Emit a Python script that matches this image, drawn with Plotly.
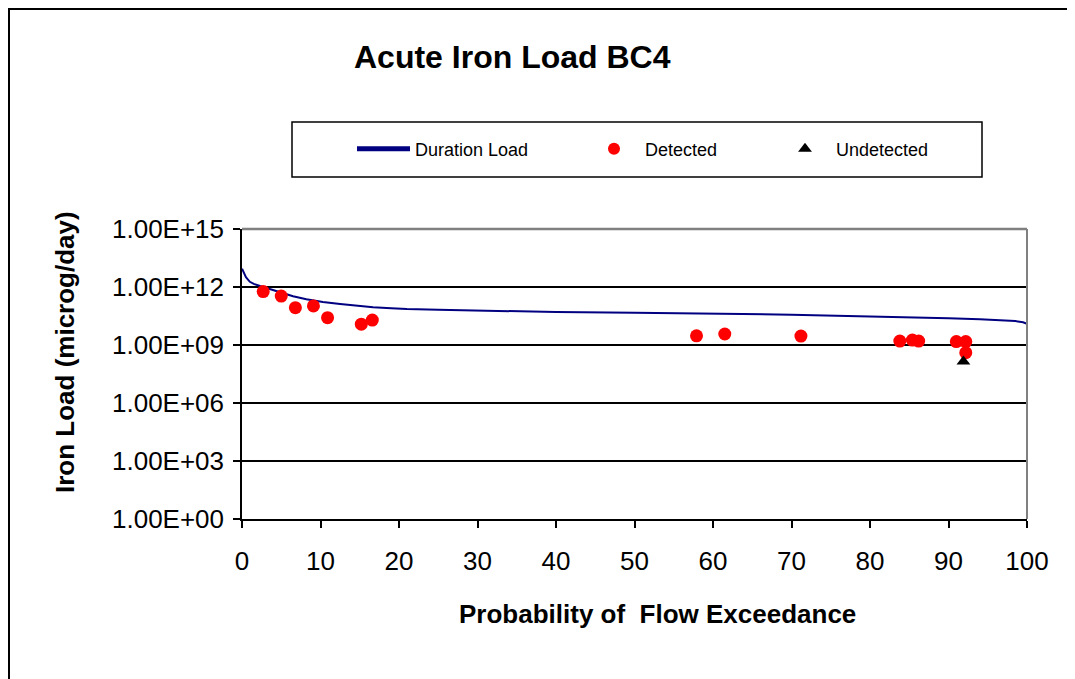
import plotly.graph_objects as go

# ---- data ----
duration_x = [0, 0.2, 0.5, 1, 1.5, 2.3, 3.5, 4.8, 6.5, 8.2, 10.3, 12.5, 14.5, 16.7,
              19, 21, 25, 30.3, 40, 50, 60, 70, 80, 85, 90, 94, 97, 98.5, 99.5, 100]
duration_load = [8.9e12, 5.6e12, 3.2e12, 1.86e12, 1.45e12, 1.12e12, 7.9e11, 5.0e11,
                 3.3e11, 2.3e11, 1.66e11, 1.32e11, 1.07e11, 8.9e10, 7.9e10, 7.2e10,
                 6.6e10, 5.9e10, 5.1e10, 4.6e10, 4.2e10, 3.7e10, 3.0e10, 2.75e10,
                 2.4e10, 2.14e10, 1.9e10, 1.74e10, 1.5e10, 1.26e10]

detected_x = [2.7, 5.0, 6.8, 9.1, 10.9, 15.2, 16.6, 57.9, 61.5, 71.2, 83.8,
              85.4, 86.2, 91.0, 92.2, 92.2]
detected_load = [5.8e11, 3.4e11, 8.5e10, 1.05e11, 2.6e10, 1.2e10, 1.95e10, 3.0e9,
                 3.7e9, 2.9e9, 1.6e9, 1.8e9, 1.6e9, 1.5e9, 1.5e9, 4.0e8]

undetected_x = [91.9]
undetected_load = [1.4e8]

y_tickvals = [1e0, 1e3, 1e6, 1e9, 1e12, 1e15]
y_ticktext = ["1.00E+00", "1.00E+03", "1.00E+06", "1.00E+09", "1.00E+12", "1.00E+15"]
x_tickvals = [0, 10, 20, 30, 40, 50, 60, 70, 80, 90, 100]

FONT = "Liberation Sans, Arial, sans-serif"

# ---- layout geometry (page pixels; the page body adds an 8px offset) ----
OFF = 8
W, H = 1075 - OFF, 679 - OFF
L, R, T, B = 242, 1027, 229, 519   # plot area in page pixels


def px(xp):
    return (xp - L) / (R - L)


def py(yp):
    return (B - yp) / (B - T)


fig = go.Figure()
fig.add_trace(go.Scatter(
    x=duration_x, y=duration_load, mode="lines", name="Duration Load",
    line=dict(color="#000080", width=2), legend="legend"))
fig.add_trace(go.Scatter(
    x=detected_x, y=detected_load, mode="markers", name="Detected",
    marker=dict(color="#FF0000", size=13, symbol="circle"), legend="legend2"))
fig.add_trace(go.Scatter(
    x=undetected_x, y=undetected_load, mode="markers", name="Undetected",
    marker=dict(color="#000000", size=12, symbol="triangle-up"), legend="legend3"))

leg_common = dict(orientation="h", yanchor="middle", xanchor="left",
                  bgcolor="rgba(0,0,0,0)", borderwidth=0,
                  font=dict(family=FONT, size=18, color="black"),
                  itemsizing="constant")

fig.update_layout(
    width=W, height=H,
    margin=dict(l=L - OFF, r=W - (R - OFF), t=T - OFF, b=H - (B - OFF), pad=0),
    paper_bgcolor="white", plot_bgcolor="white",
    showlegend=True,
    legend=dict(x=px(352), y=py(149), itemwidth=53, **leg_common),
    legend2=dict(x=px(583), y=py(149), itemwidth=52, **leg_common),
    legend3=dict(x=px(774), y=py(149), itemwidth=52, **leg_common),
    xaxis=dict(range=[0, 100], tickvals=x_tickvals, showgrid=False, zeroline=False,
               showline=True, linecolor="black", linewidth=1.5,
               ticks="outside", ticklen=7, tickcolor="black", tickwidth=1.5,
               ticklabelstandoff=11,
               tickfont=dict(family=FONT, size=26, color="black")),
    yaxis=dict(type="log", range=[0, 15], tickvals=y_tickvals, ticktext=y_ticktext,
               showgrid=True, gridcolor="black", gridwidth=1.5, zeroline=False,
               showline=True, linecolor="black", linewidth=1.5,
               ticks="outside", ticklen=7, tickcolor="black", tickwidth=1.5,
               ticklabelstandoff=4,
               tickfont=dict(family=FONT, size=26, color="black")),
    shapes=[
        # plot-area top and right border (gray)
        dict(type="line", xref="paper", yref="paper", x0=0, x1=1, y0=1, y1=1,
             line=dict(color="#808080", width=2.5), layer="above"),
        dict(type="line", xref="paper", yref="paper", x0=1, x1=1, y0=0, y1=1,
             line=dict(color="#808080", width=2), layer="above"),
        # legend box
        dict(type="rect", xref="paper", yref="paper", x0=px(292), x1=px(982),
             y0=py(177), y1=py(122), line=dict(color="black", width=1.5)),
        # outer chart frame
        dict(type="rect", xref="paper", yref="paper", x0=px(OFF + 1), x1=px(1100),
             y0=py(720), y1=py(OFF + 1), line=dict(color="black", width=2)),
    ],
    annotations=[
        dict(text="<b>Acute Iron Load BC4</b>", xref="paper", yref="paper",
             x=px(512), y=py(57), xanchor="center", yanchor="middle", showarrow=False,
             font=dict(family=FONT, size=32, color="black")),
        dict(text="<b>Probability of&nbsp; Flow Exceedance</b>", xref="paper", yref="paper",
             x=px(657), y=py(614), xanchor="center", yanchor="middle", showarrow=False,
             font=dict(family=FONT, size=26, color="black")),
        dict(text="<b>Iron Load (microg/day)</b>", xref="paper", yref="paper",
             x=px(65), y=py(352), xanchor="center", yanchor="middle", showarrow=False,
             textangle=-90, font=dict(family=FONT, size=26, color="black")),
    ],
)

fig.write_html("out.html")
